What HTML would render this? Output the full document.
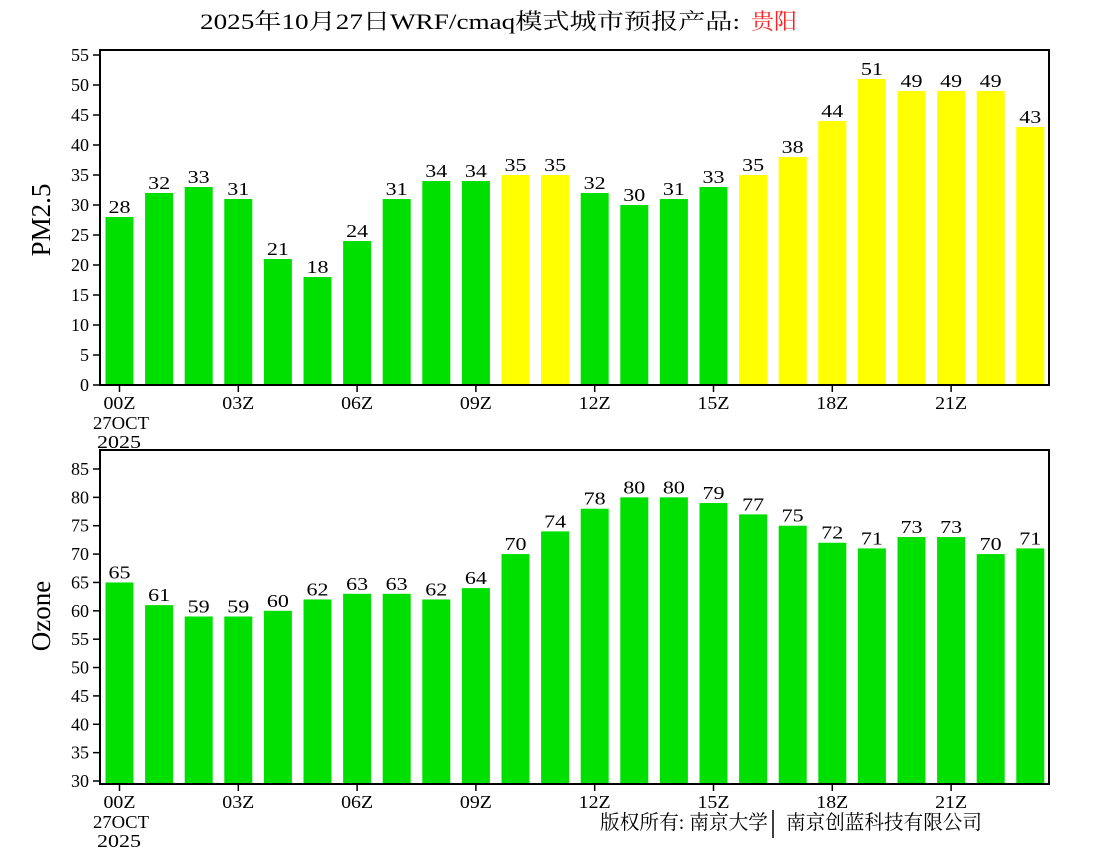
<!DOCTYPE html>
<html><head><meta charset="utf-8"><style>html,body{margin:0;padding:0;background:#fff}svg{display:block}</style></head>
<body>
<svg id="s" width="1100" height="850" xmlns="http://www.w3.org/2000/svg" font-family="'Liberation Serif','Noto Serif CJK SC',serif">
<text x="200" y="29" font-size="22" textLength="540" lengthAdjust="spacingAndGlyphs">2025年10月27日WRF/cmaq模式城市预报产品:</text>
<text x="751" y="29" font-size="22" fill="#ff2020" textLength="46" lengthAdjust="spacingAndGlyphs">贵阳</text>
<text transform="translate(50,220) rotate(-90)" font-size="27" text-anchor="middle">PM2.5</text>
<text transform="translate(50,616) rotate(-90)" font-size="27" text-anchor="middle">Ozone</text>
<text x="600" y="829" font-size="20" textLength="168" lengthAdjust="spacingAndGlyphs">版权所有: 南京大学</text>
<text x="786" y="829" font-size="20" textLength="196" lengthAdjust="spacingAndGlyphs">南京创蓝科技有限公司</text>
<line x1="773" y1="810" x2="773" y2="838" stroke="#000" stroke-width="1.5"/>
<g id="g"></g>
</svg>
<script>
var pm=[28,32,33,31,21,18,24,31,34,34,35,35,32,30,31,33,35,38,44,51,49,49,49,43];
var oz=[65,61,59,59,60,62,63,63,62,64,70,74,78,80,80,79,77,75,72,71,73,73,70,71];
var h='';
function cx(i){return 119.5+39.6*i;}
function chart(vals,top,bot,v0,scale,vmin,vmax,yellow){
  var yb=function(v){return v0-(v-vmin)*scale;};
  for(var i=0;i<24;i++){
    var v=vals[i],y=yb(v),c=(yellow&&v>=35)?'#ffff00':'#00e000';
    h+='<rect x="'+(cx(i)-14)+'" y="'+y+'" width="28" height="'+(bot-y)+'" fill="'+c+'"/>';
    h+='<text x="'+cx(i)+'" y="'+(y-4)+'" font-size="18" text-anchor="middle" textLength="22" lengthAdjust="spacingAndGlyphs">'+v+'</text>';
  }
  for(var v=vmin;v<=vmax;v+=5){var y=yb(v);
    h+='<line x1="93" x2="100" y1="'+y+'" y2="'+y+'" stroke="#000" stroke-width="1.5"/>';
    h+='<text x="89" y="'+(y+6)+'" font-size="18" text-anchor="end">'+v+'</text>';}
  h+='<rect x="100" y="'+top+'" width="949" height="'+(bot-top)+'" fill="none" stroke="#000" stroke-width="2"/>';
  var labs=['00Z','03Z','06Z','09Z','12Z','15Z','18Z','21Z'];
  for(var k=0;k<8;k++){var x=cx(3*k);
    h+='<line x1="'+x+'" x2="'+x+'" y1="'+bot+'" y2="'+(bot+7)+'" stroke="#000" stroke-width="1.5"/>';
    h+='<text x="'+x+'" y="'+(bot+24)+'" font-size="18" text-anchor="middle" textLength="32" lengthAdjust="spacingAndGlyphs">'+labs[k]+'</text>';}
  h+='<text x="121" y="'+(bot+44)+'" font-size="18" text-anchor="middle" textLength="56" lengthAdjust="spacingAndGlyphs">27OCT</text>';
  h+='<text x="119" y="'+(bot+63)+'" font-size="18" text-anchor="middle" textLength="44" lengthAdjust="spacingAndGlyphs">2025</text>';
}
chart(pm,50,385,385,6,0,55,true);
chart(oz,450,784,781,5.673,30,85,false);
document.getElementById('g').innerHTML=h;
</script>
</body></html>
